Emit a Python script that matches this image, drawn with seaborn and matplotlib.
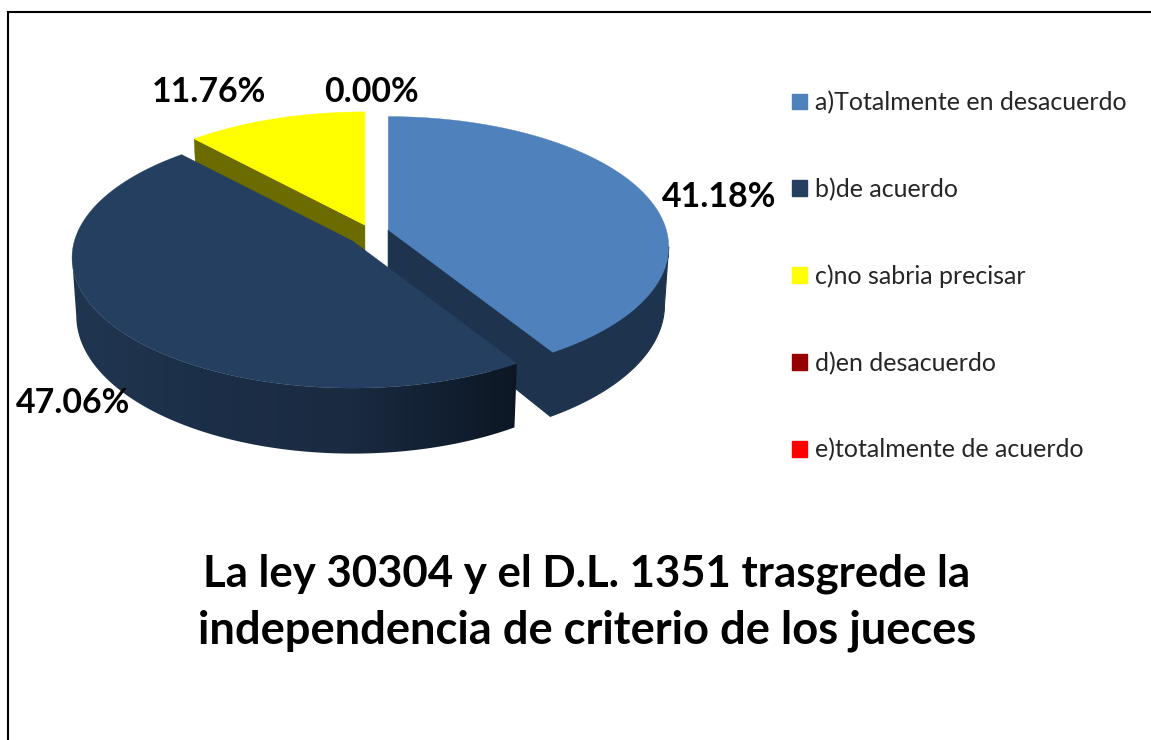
import numpy as np
import matplotlib
matplotlib.use("Agg")
import matplotlib.pyplot as plt
from matplotlib.colors import to_rgb
from matplotlib.patches import Patch
import seaborn as sns

categories = ["a)Totalmente en desacuerdo", "b)de acuerdo", "c)no sabria precisar",
              "d)en desacuerdo", "e)totalmente de acuerdo"]
values = [41.18, 47.06, 11.76, 0.00, 0.00]
colors = ["#4F81BD", "#243F60", "#FFFF00", "#970000", "#FF0000"]
title_lines = ["La ley 30304 y el D.L. 1351 trasgrede la",
               "independencia de criterio de los jueces"]

sns.set_theme(style="white")
plt.rcParams["font.family"] = ["Lato", "DejaVu Sans"]

# canvas in pixels, y going down
fig = plt.figure(figsize=(11.51, 7.40), dpi=100)
ax = fig.add_axes([0, 0, 1, 1])
ax.axis("off")
palette = sns.color_palette(colors)

# pie geometry
cx, cy = 370, 233
rx, ry = 278, 128
persp = 0.13
depth = 57
explode = [19, 22, 14]


def project(ang, radius, ox, oy, bottom=False):
    u = radius * np.sin(ang)
    v = radius * np.cos(ang)
    s = 1 / (1 + persp * v)
    if bottom:
        return ox + 0.985 * rx * u * s, oy - ry * v * s + depth * s
    return ox + rx * u * s, oy - ry * v * s


def wall(angs, radius, ox, oy):
    xt, yt = project(angs, radius, ox, oy)
    xb, yb = project(angs[::-1], radius[::-1], ox, oy, bottom=True)
    return np.r_[xt, xb], np.r_[yt, yb]


bounds = np.radians(np.r_[0, np.cumsum(values)] * 3.6)
rim_cols = ["#1E334D", None, "#6B6B00"]

# the dark wall gets darker towards its right end
shade_x = np.array([72, 200, 350, 450, 516])
shade_cols = np.array([to_rgb(c) for c in ["#203650", "#1C2F48", "#1A2A40", "#121F31", "#0D1724"]])
grid_x = np.arange(60, 530)
shade = np.stack([np.interp(grid_x, shade_x, shade_cols[:, k]) for k in range(3)], axis=-1)[None, :, :]

# where the outline of the cylinder turns, seen from the front
turn = np.arcsin(persp)
right_turn = np.pi / 2 + turn
left_turn = 3 * np.pi / 2 - turn

for z, i in enumerate([0, 2, 1]):
    a0, a1 = bounds[i], bounds[i + 1]
    mid = (a0 + a1) / 2
    ox = cx + explode[i] * np.sin(mid)
    oy = cy - explode[i] * 0.6 * np.cos(mid)
    # cut faces that look to the front
    if i == 0:
        x, y = wall(np.array([a1, a1]), np.array([0.0, 1.0]), ox, oy)
        ax.fill(x, y, color=rim_cols[0], lw=0.8, zorder=z + 1)
    if i == 2:
        x, y = wall(np.array([a0, a0]), np.array([0.0, 1.0]), ox, oy)
        ax.fill(x, y, color=rim_cols[2], lw=0.3, zorder=z + 1)
    # outer wall, only the part that faces the viewer
    if i == 0:
        angs = np.linspace(right_turn, a1, 120)
        x, y = wall(angs, np.ones_like(angs), ox, oy)
        ax.fill(x, y, color=rim_cols[0], lw=0.8, zorder=z + 1.1)
    if i == 1:
        angs = np.linspace(a0, left_turn, 120)
        x, y = wall(angs, np.ones_like(angs), ox, oy)
        poly = ax.fill(x, y, facecolor="none", lw=0, zorder=z + 1)[0]
        img = ax.imshow(shade, extent=(grid_x[0], grid_x[-1], 470, 150), aspect="auto", zorder=z + 1.1)
        img.set_clip_path(poly)
    # top face
    angs = np.linspace(a0, a1, 200)
    x, y = project(angs, np.ones_like(angs), ox, oy)
    ax.fill(np.r_[ox, x], np.r_[oy, y], color=palette[i], lw=0.3, zorder=z + 1.2)

ax.set_xlim(0, 1151)
ax.set_ylim(740, 0)

# data labels
label_font = dict(fontsize=24.4, fontweight="bold", color="black", ha="center", va="center", zorder=10)
ax.text(719.5, 197, f"{values[0]:.2f}%", **label_font)
ax.text(73.5, 403, f"{values[1]:.2f}%", **label_font)
ax.text(209, 92, f"{values[2]:.2f}%", **label_font)
ax.text(371, 92, f"{values[3]:.2f}%", **label_font)

handles = [Patch(color=c, label=n) for c, n in zip(palette, categories)]
ax.legend(handles=handles, loc="upper left", bbox_to_anchor=(792, 91), bbox_transform=ax.transData,
          frameon=False, fontsize=18, handlelength=0.6, handleheight=0.6, handletextpad=0.33,
          labelspacing=2.54, borderpad=0, borderaxespad=0)

ax.text(587, 574, title_lines[0], fontsize=31.5, fontweight="bold", ha="center", va="center", color="black")
ax.text(587, 631, title_lines[1], fontsize=32.7, fontweight="bold", ha="center", va="center", color="black")

# frame of the sheet, open at right and bottom
ax.plot([8, 8, 1151], [740, 11.5, 11.5], color="black", lw=1.5, solid_joinstyle="miter", zorder=10)

fig.savefig("out.png", dpi=100)
